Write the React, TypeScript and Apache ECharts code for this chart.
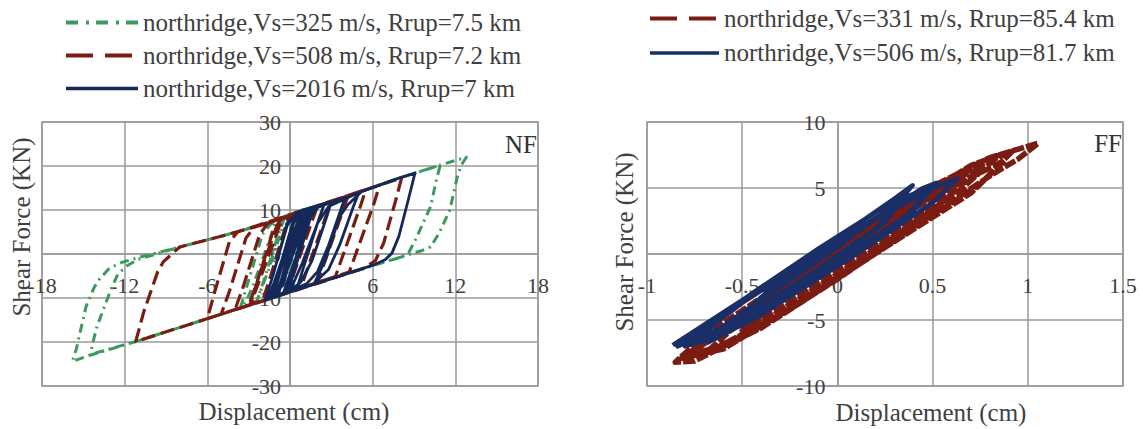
import React, { useEffect, useRef } from "react";
import * as echarts from "echarts";

const FONT = '"Liberation Serif", "Times New Roman", serif';
const TXT = "#404040";
const GRIDC = "#9a9a9a";

// ---- series names ----
const NAME_NF325 = "northridge,Vs=325 m/s, Rrup=7.5 km";
const NAME_NF508 = "northridge,Vs=508 m/s, Rrup=7.2 km";
const NAME_NF2016 = "northridge,Vs=2016 m/s, Rrup=7 km";
const NAME_FF331 = "northridge,Vs=331 m/s, Rrup=85.4 km";
const NAME_FF506 = "northridge,Vs=506 m/s, Rrup=81.7 km";

// ---- axis ranges ----
const NF_X = { min: -18, max: 18, interval: 6 };
const NF_Y = { min: -30, max: 30, interval: 10 };
const FF_X = { min: -1, max: 1.5, interval: 0.5 };
const FF_Y = { min: -10, max: 10, interval: 5 };

// ---- NF: displacement (cm), shear force (kN) ----
const nf325: number[][] = [
  [0, 0], [1.0, 8.8], [1.5, 10.5], [1.2, 7.8], [-0.8, -9.4], [-1.4, -10.1], [-0.9, -5.8], [0.4, 8.4], [0.9, 10.0],
  [2.0, 10.9], [4.2, 13.1], [7.85, 17.2], [9.5, 18.8], [11.0, 20.3], [12.8, 22.0],
  [12.5, 20.5], [12.2, 18.3], [11.6, 10.0], [10.8, 4.6], [10.2, 1.6], [9.6, 0.8],
  [6.9, -1.8], [3.7, -4.9], [0, -8.6], [-1.8, -10.5], [-6.2, -14.9], [-11.2, -19.9], [-14.0, -22.4], [-15.8, -24.4],
  [-15.5, -21.5], [-15.3, -18.7], [-14.8, -11.9], [-14.2, -7.5], [-13.8, -5.6], [-13.1, -3.2], [-12.2, -1.9], [-11.0, -0.8],
  [-8.0, 1.6], [-4.8, 4.2], [-1.6, 7.0], [0.6, 9.8], [2.0, 10.9], [4.2, 13.1], [7.85, 17.2], [10.9, 20.2],
  [10.6, 16.5], [10.2, 10.7], [9.1, 3.2], [8.6, 0.2], [8.0, -0.8],
  [6.15, -2.4], [0, -8.6], [-6.2, -14.9], [-11.2, -19.9], [-14.5, -23.0],
  [-14.3, -20.0], [-14.0, -16.4], [-13.0, -8.1], [-12.5, -4.6], [-11.8, -2.6], [-11.0, -1.2],
  [-8.0, 1.6], [-4.8, 4.2], [-2.6, 6.2], [-1.0, 7.6],
  [-1.4, 4.0], [-2.6, -6.5], [-3.2, -11.0], [-3.6, -12.2],
  [-3.1, -7.0], [-2.0, 4.5], [-1.4, 6.8], [-0.4, 8.2],
  [-0.9, 4.0], [-1.9, -6.0], [-2.4, -10.6],
  [-1.6, -4.0], [-0.6, 5.5], [0, 7.8],
];

const nf508: number[][] = [
  [0, 0], [0.9, 8.0], [1.3, 10.2], [2.0, 10.9],
  [1.6, 7.5], [-0.2, -8.8], [-2.0, -10.7],
  [-1.5, -6.0], [-0.3, 6.5], [0.2, 9.2], [3.0, 11.9],
  [2.6, 8.5], [0.8, -7.5], [-3.0, -11.7],
  [-2.4, -6.5], [-1.2, 5.5], [-0.6, 8.0], [4.2, 13.1],
  [3.8, 9.5], [2.0, -6.4], [-4.0, -12.7],
  [-3.4, -7.5], [-2.2, 4.5], [-1.6, 7.0], [5.5, 14.6],
  [5.1, 10.8], [3.3, -5.1], [-5.0, -13.7],
  [-4.4, -8.5], [-3.2, 3.6], [-2.6, 6.1], [6.5, 15.7],
  [6.1, 11.5], [4.3, -4.1], [-6.0, -14.7],
  [-5.5, -9.0], [-4.4, 2.8], [-3.8, 5.0], [8.1, 17.3],
  [7.7, 12.5], [6.8, 2.5], [6.2, -1.5], [5.3, -3.3], [-1.8, -10.5], [-6.2, -14.9], [-11.2, -19.9],
  [-10.6, -13.0], [-9.6, -4.0], [-9.2, -1.8], [-8.4, 0.5], [-8.0, 1.6], [-4.8, 4.2], [-1.6, 7.0], [-0.6, 8.2],
  [-1.0, 4.2], [-2.6, -9.2], [-2.9, -11.6],
  [-2.2, -4.5], [-1.0, 6.0], [0, 8.4],
];

const nf2016: number[][] = [
  [0, 0], [0.8, 7.2], [1.2, 10.1], [1.7, 10.6],
  [1.3, 7.0], [-0.5, -9.0], [-1.0, -9.6],
  [-0.6, -5.5], [0.7, 8.5], [1.4, 10.4],
  [1.0, 6.5], [-0.9, -9.4], [-1.5, -10.2],
  [-1.0, -5.8], [0.3, 8.2], [0.8, 9.8], [2.5, 11.4],
  [2.1, 8.0], [0.5, -7.8], [-0.2, -8.8],
  [0.3, -4.0], [1.5, 8.4], [2.0, 10.6], [4.0, 12.9],
  [3.7, 10.2], [2.8, 2.0], [2.0, -4.0], [1.2, -6.8], [-1.8, -10.5],
  [-1.3, -5.5], [-0.2, 6.5], [0.5, 9.5], [3.0, 11.9],
  [2.7, 8.8], [1.6, -1.5], [0.8, -6.3], [0.0, -8.4],
  [0.9, -2.0], [2.0, 7.0], [2.8, 10.8], [5.0, 14.0],
  [4.6, 10.8], [3.6, 2.0], [2.8, -3.5], [1.8, -6.5],
  [2.6, -1.0], [3.6, 8.5], [4.2, 11.2], [5.2, 14.2], [7.85, 17.2], [9.07, 18.4],
  [8.6, 12.5], [7.9, 4.0], [7.4, 0.2], [6.9, -1.3], [6.15, -2.4], [3.7, -4.9], [0, -8.6], [-1.8, -10.5],
  [-1.2, -4.5], [-0.2, 7.0], [0.6, 9.6], [1.5, 10.5],
  [1.1, 6.8], [-0.3, -8.9], [-1.2, -9.9],
  [-0.8, -5.0], [0.2, 4.5], [0.9, 9.9], [1.2, 10.2],
  [0.8, 6.0], [-0.7, -7.5], [-1.6, -10.3],
  [-1.1, -6.0], [0.0, 4.0], [0.4, 8.6], [1.0, 10.0],
  [0.6, 5.2], [-0.5, -7.0], [-1.3, -9.8],
  [-0.7, -3.5], [0.1, 6.0], [0.7, 9.4],
];

// ---- FF ----
const ff331: number[][] = [
  [0, 0.4], [0.3, 3.2], [0.55, 5.3], [0.62, 5.6],
  [0.45, 3.0], [0, -1.8], [-0.35, -5.0], [-0.48, -6.0],
  [-0.3, -3.3], [0.2, 2.2], [0.7, 6.7], [0.85, 7.5],
  [0.65, 4.9], [0.2, 0.2], [-0.4, -5.6], [-0.75, -8.1], [-0.852, -8.2],
  [-0.7, -6.2], [-0.2, -1.4], [0.4, 4.4], [0.8, 7.3], [1.055, 8.4],
  [0.95, 7.2], [0.81, 6.0], [0.467, 2.7], [0, -1.9], [-0.4, -5.6], [-0.8, -8.0],
  [-0.7, -6.8], [-0.3, -2.6], [0.3, 2.9], [0.6, 5.6], [0.75, 6.5],
  [0.55, 3.9], [0.1, -0.6], [-0.3, -4.3], [-0.6, -7.0], [-0.78, -7.6],
  [-0.6, -5.6], [-0.1, -0.9], [0.35, 3.4], [0.7, 6.4], [0.92, 7.8],
  [0.75, 5.3], [0.3, 1.0], [-0.2, -3.7], [-0.6, -7.2], [-0.82, -7.9],
  [-0.62, -5.9], [-0.2, -1.8], [0.2, 1.9], [0.5, 4.6], [0.66, 5.9],
  [0.5, 3.5], [0.1, -0.3], [-0.3, -4.1], [-0.5, -5.8],
  [-0.3, -3.5], [0, -0.4], [0.4, 3.6], [0.88, 7.1],
  [0.7, 4.6], [0.25, 0.5], [-0.25, -4.2], [-0.7, -7.6],
  [-0.5, -5.0], [0.05, 0.2], [0.5, 4.3],
];

const ff506: number[][] = [
  [-0.865, -6.9], [-0.5, -3.5], [0, 1.2], [0.3, 4.2], [0.395, 5.2],
  [0.3, 3.6], [0.2, 1.9], [-0.2, -2.3], [-0.6, -6.1], [-0.8, -7.0],
  [-0.5, -3.7], [0, 0.9], [0.45, 5.0], [0.52, 5.4],
  [0.4, 3.3], [0, -0.8], [-0.5, -5.4], [-0.72, -6.7],
  [-0.3, -2.4], [0.2, 2.7], [0.55, 5.3], [0.63, 5.7],
  [0.5, 3.9], [0.1, 0.0], [-0.4, -4.6], [-0.68, -6.7],
  [-0.4, -3.5], [0, 0.5], [0.35, 4.3],
  [0.25, 2.4], [-0.1, -1.1], [-0.5, -4.9], [-0.84, -7.0],
  [-0.45, -3.0], [-0.1, 0.4], [0.25, 3.6], [0.5, 5.2],
  [0.35, 2.7], [0, -0.4], [-0.35, -3.8], [-0.6, -5.9],
  [-0.3, -2.0], [0.1, 1.9], [0.45, 4.6],
];

const GREEN = "#3a9a5c";
const RED = "#7a1c12";
const NAVY = "#14295a";
const NAVY_FF = "#1a2f68";

// plot geometry (px)
const NF_GRID = { left: 42, width: 496 };
const FF_GRID = { left: 647, width: 476 };
const GRID_TOP = 122;
const GRID_H = 264;

function buildOption(): any {
  const labelStyle = { fontSize: 22, color: TXT, fontFamily: FONT };
  const nameStyle = { fontSize: 25, color: TXT, fontFamily: FONT };
  const lineAxis = { onZero: false, lineStyle: { color: GRIDC, width: 1.5 } };
  const split = { show: true, lineStyle: { color: GRIDC, width: 1.5 } };

  // offsets to put the axes through the origin
  const xOff = -GRID_H * (0 - NF_Y.min) / (NF_Y.max - NF_Y.min);
  const nfYOff = -NF_GRID.width * (0 - NF_X.min) / (NF_X.max - NF_X.min);
  const ffYOff = -FF_GRID.width * (0 - FF_X.min) / (FF_X.max - FF_X.min);
  const ffXOff = -GRID_H * (0 - FF_Y.min) / (FF_Y.max - FF_Y.min);

  const mkSeries = (name: string, data: number[][], idx: number, color: string, type: any, width: number) => ({
    name,
    type: "line",
    xAxisIndex: idx,
    yAxisIndex: idx,
    data,
    symbol: "none",
    showSymbol: false,
    silent: true,
    itemStyle: { color },
    lineStyle: { color, width, type, cap: "butt", join: "round" },
    z: 3,
  });

  const gridBase = {
    top: GRID_TOP,
    height: GRID_H,
    show: true,
    borderColor: GRIDC,
    borderWidth: 1.5,
    backgroundColor: "transparent",
    containLabel: false,
    outerBoundsMode: "none",
  };

  return {
    animation: false,
    backgroundColor: "#ffffff",
    textStyle: { fontFamily: FONT },
    legend: [
      {
        orient: "vertical",
        left: 64,
        top: 10,
        padding: 0,
        itemWidth: 72,
        itemHeight: 25,
        itemGap: 8,
        selectedMode: false,
        itemStyle: { opacity: 0 },
        textStyle: { fontSize: 25, color: TXT, fontFamily: FONT, lineHeight: 25 },
        data: [
          { name: NAME_NF325, lineStyle: { type: [12, 8, 3, 7], width: 4 } },
          { name: NAME_NF508, lineStyle: { type: [27, 12], width: 4 } },
          { name: NAME_NF2016, lineStyle: { width: 3.5 } },
        ],
      },
      {
        orient: "vertical",
        left: 648,
        top: 6,
        padding: 0,
        itemWidth: 69,
        itemHeight: 25,
        itemGap: 9.4,
        selectedMode: false,
        itemStyle: { opacity: 0 },
        textStyle: { fontSize: 25, color: TXT, fontFamily: FONT, lineHeight: 25 },
        data: [
          { name: NAME_FF331, lineStyle: { type: [27, 12], width: 4 } },
          { name: NAME_FF506, lineStyle: { width: 3.5 } },
        ],
      },
    ],
    grid: [
      { ...gridBase, ...NF_GRID },
      { ...gridBase, ...FF_GRID },
    ],
    xAxis: [
      {
        gridIndex: 0, type: "value", ...NF_X, position: "bottom", offset: xOff,
        axisLine: lineAxis, axisTick: { show: false }, splitLine: split,
        axisLabel: { ...labelStyle, margin: 20 },
        name: "Displacement (cm)", nameLocation: "middle", nameGap: 145,
        nameTextStyle: { ...nameStyle, padding: [0, 0, 0, 8] },
      },
      {
        gridIndex: 1, type: "value", ...FF_X, position: "bottom", offset: ffXOff,
        axisLine: lineAxis, axisTick: { show: false }, splitLine: split,
        axisLabel: { ...labelStyle, margin: 20 },
        name: "Displacement (cm)", nameLocation: "middle", nameGap: 146,
        nameTextStyle: { ...nameStyle, padding: [0, 0, 0, 92] },
      },
    ],
    yAxis: [
      {
        gridIndex: 0, type: "value", ...NF_Y, position: "left", offset: nfYOff,
        axisLine: lineAxis, axisTick: { show: false }, splitLine: split,
        axisLabel: { ...labelStyle, margin: 9 },
        name: "Shear Force (KN)", nameLocation: "middle", nameGap: 256,
        nameTextStyle: { ...nameStyle, padding: [0, 0, 0, 54] },
      },
      {
        gridIndex: 1, type: "value", ...FF_Y, position: "left", offset: ffYOff,
        axisLine: lineAxis, axisTick: { show: false }, splitLine: split,
        axisLabel: { ...labelStyle, margin: 12 },
        name: "Shear Force (KN)", nameLocation: "middle", nameGap: 200,
        nameTextStyle: { ...nameStyle, padding: [0, 0, 0, 24] },
      },
    ],
    series: [
      mkSeries(NAME_NF325, nf325, 0, GREEN, [9, 5, 2, 5], 3),
      mkSeries(NAME_NF508, nf508, 0, RED, [14, 6], 3.2),
      mkSeries(NAME_NF2016, nf2016, 0, NAVY, "solid", 2.8),
      mkSeries(NAME_FF331, ff331, 1, RED, [12, 2], 5.5),
      mkSeries(NAME_FF506, ff506, 1, NAVY_FF, "solid", 4.5),
    ],
    graphic: [
      {
        type: "text", x: 537, y: 144, z: 10,
        style: { text: "NF", fill: "#333", font: `25px ${FONT}`, textAlign: "right", textVerticalAlign: "middle" },
      },
      {
        type: "text", x: 1122, y: 143, z: 10,
        style: { text: "FF", fill: "#333", font: `25px ${FONT}`, textAlign: "right", textVerticalAlign: "middle" },
      },
    ],
  };
}

export default function App() {
  const ref = useRef<HTMLDivElement>(null);
  useEffect(() => {
    if (!ref.current) return;
    const chart = echarts.init(ref.current, null, { renderer: "svg" });
    chart.setOption(buildOption());
    return () => chart.dispose();
  }, []);
  return (
    <div
      ref={ref}
      style={{ position: "absolute", left: 0, top: 0, width: 1143, height: 429, background: "#fff" }}
    />
  );
}
